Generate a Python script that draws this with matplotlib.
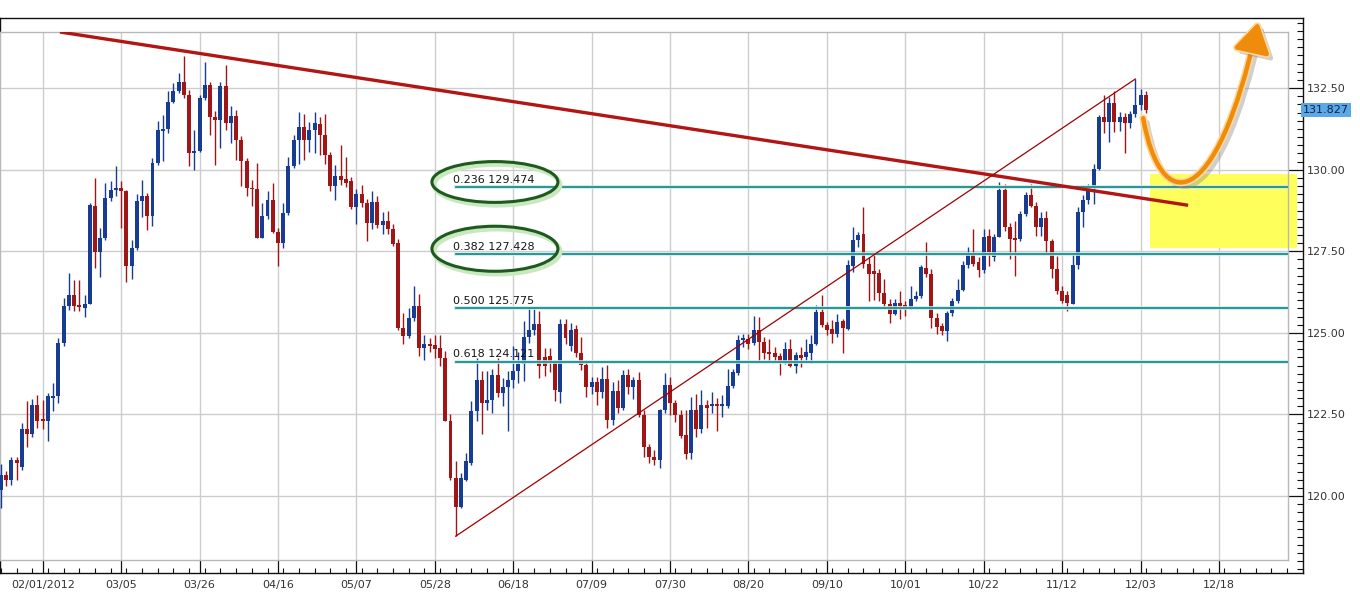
import matplotlib
matplotlib.use("Agg")
import matplotlib.pyplot as plt
import matplotlib.patheffects as pe
import matplotlib.transforms as mtransforms
from matplotlib.patches import Ellipse, Rectangle, FancyArrowPatch
from matplotlib.path import Path
from matplotlib.ticker import MultipleLocator, FixedLocator, FormatStrFormatter

# ── Data: daily candles, bar index 0..219 ──────────────────────────────────
OPEN = [120.2, 120.66, 120.5, 121.1, 120.9, 122.04, 121.9, 122.8, 122.35, 122.3,
        123.0, 123.07, 124.7, 125.82, 126.17, 125.85, 125.75, 125.9, 128.9, 127.47,
        127.9, 129.13, 129.39, 129.44, 129.34, 127.06, 127.6, 129.05, 129.18, 128.57,
        130.2, 131.2, 131.25, 132.09, 132.4, 132.7, 132.3, 130.5, 130.58, 132.2,
        132.6, 131.63, 131.53, 132.55, 131.43, 131.65, 130.92, 130.26, 129.44, 129.4,
        127.9, 128.57, 129.08, 128.1, 127.75, 128.67, 130.1, 130.9, 131.31, 130.9,
        131.23, 131.4, 131.06, 130.44, 129.49, 129.8, 129.72, 129.64, 128.85, 129.26,
        128.97, 128.36, 129.0, 128.3, 128.44, 128.18, 127.74, 125.14, 124.9, 125.47,
        125.83, 124.54, 124.65, 124.62, 124.54, 124.24, 122.29, 120.55, 119.67, 120.5,
        121.0, 122.6, 123.57, 122.85, 122.95, 123.72, 123.16, 123.33, 123.57, 123.83,
        124.05, 124.87, 125.1, 125.26, 124.25, 124.3, 124.13, 123.2, 125.26, 124.6,
        125.13, 124.39, 124.01, 123.33, 123.5, 123.19, 123.6, 122.33, 123.22, 122.7,
        123.7, 123.33, 123.55, 122.48, 121.51, 121.2, 121.1, 122.63, 123.4, 122.84,
        122.48, 121.87, 121.33, 122.65, 122.04, 122.79, 122.76, 122.8, 122.76, 122.76,
        123.37, 123.78, 124.78, 124.8, 124.7, 125.08, 124.72, 124.42, 124.39, 124.29,
        124.11, 124.52, 123.98, 124.32, 124.27, 124.39, 124.65, 125.64, 125.23, 125.13,
        124.96, 125.37, 125.13, 127.04, 127.84, 128.03, 127.1, 126.9, 126.85, 126.23,
        125.9, 125.58, 125.92, 125.84, 125.75, 126.03, 126.13, 127.0, 126.8, 125.46,
        125.2, 125.07, 125.61, 125.99, 126.31, 127.08, 127.43, 127.16, 126.92, 127.98,
        127.34, 127.95, 129.39, 128.23, 127.92, 127.87, 128.64, 129.23, 128.9, 128.23,
        128.51, 127.82, 126.95, 126.28, 126.16, 125.9, 127.08, 128.7, 129.08, 129.45,
        130.03, 131.63, 131.47, 132.04, 131.47, 131.63, 131.42, 131.71, 131.99, 132.3]
HIGH = [120.97, 120.76, 121.2, 121.2, 122.24, 122.9, 122.96, 123.1, 122.95, 123.16,
        123.45, 124.85, 126.07, 126.84, 126.63, 126.63, 126.17, 128.98, 129.74, 128.2,
        129.6, 129.64, 130.1, 129.64, 129.39, 127.86, 129.26, 129.7, 129.28, 130.36,
        131.48, 131.68, 132.4, 132.65, 132.96, 133.47, 132.45, 131.22, 132.3, 133.3,
        132.7, 131.79, 132.68, 133.2, 131.94, 131.84, 131.02, 130.36, 129.7, 130.2,
        128.98, 129.34, 129.6, 128.2, 128.98, 130.4, 131.06, 131.77, 131.72, 131.47,
        131.77, 131.6, 131.72, 130.54, 130.13, 130.75, 130.4, 129.77, 129.41, 129.52,
        129.1, 129.36, 129.2, 128.7, 128.75, 128.34, 127.88, 125.62, 125.77, 126.44,
        126.18, 124.95, 124.85, 124.95, 124.95, 124.44, 122.5, 121.06, 120.7, 121.31,
        122.9, 124.24, 123.83, 123.83, 123.88, 124.24, 123.62, 123.83, 124.6, 124.4,
        125.36, 125.77, 125.72, 125.67, 124.54, 124.54, 124.18, 125.41, 125.41, 125.3,
        125.23, 124.88, 124.16, 123.65, 123.65, 123.96, 124.01, 123.5, 123.55, 123.86,
        123.9, 123.65, 123.8, 122.63, 121.6, 121.4, 122.68, 123.78, 123.65, 122.94,
        122.63, 122.63, 123.04, 123.14, 123.25, 122.94, 123.19, 122.99, 123.1, 123.9,
        123.9, 124.93, 124.98, 124.98, 125.51, 125.49, 124.88, 124.8, 124.57, 124.37,
        124.72, 124.8, 124.42, 124.57, 124.8, 124.95, 125.85, 126.15, 125.34, 125.39,
        125.59, 125.44, 127.22, 128.24, 128.09, 128.85, 127.31, 127.46, 126.95, 126.64,
        126.03, 126.03, 126.28, 125.97, 126.43, 126.28, 127.08, 127.77, 126.95, 125.62,
        125.3, 125.67, 126.07, 126.64, 127.21, 127.62, 128.18, 127.31, 128.18, 128.18,
        128.03, 129.62, 129.57, 128.36, 128.44, 128.75, 129.31, 129.57, 129.0, 128.7,
        128.75, 127.87, 127.36, 126.43, 126.28, 127.43, 128.85, 129.21, 129.57, 130.19,
        131.68, 132.29, 132.24, 132.4, 131.78, 131.73, 131.81, 132.78, 132.47, 132.4]
LOW = [119.64, 120.3, 120.35, 120.5, 120.8, 121.5, 121.8, 122.1, 122.05, 121.7,
       122.6, 122.86, 124.6, 125.71, 125.66, 125.66, 125.5, 125.87, 126.99, 126.7,
       127.86, 129.03, 129.18, 128.2, 126.55, 126.65, 127.55, 128.55, 128.16, 128.26,
       130.15, 130.26, 131.12, 132.04, 132.35, 132.19, 130.1, 130.0, 130.53, 132.14,
       131.07, 130.15, 130.66, 131.22, 130.82, 130.3, 129.5, 129.18, 128.9, 127.9,
       127.9, 128.5, 128.05, 127.04, 127.6, 128.6, 130.06, 130.18, 130.3, 130.54,
       130.5, 130.44, 130.18, 129.36, 129.06, 129.52, 129.47, 128.8, 128.34, 128.85,
       127.83, 128.18, 128.2, 128.03, 128.03, 127.67, 125.1, 124.65, 124.85, 125.36,
       124.29, 124.18, 124.4, 124.24, 124.0, 122.29, 120.49, 118.77, 119.62, 120.45,
       120.95, 122.29, 121.9, 122.65, 122.54, 123.05, 122.75, 121.98, 123.3, 123.47,
       123.52, 124.7, 124.95, 123.62, 123.67, 123.8, 122.9, 122.85, 124.65, 124.45,
       124.27, 123.86, 123.04, 123.14, 122.79, 122.99, 122.07, 122.17, 122.53, 122.63,
       123.14, 122.96, 122.43, 121.2, 121.0, 120.95, 120.85, 122.53, 122.48, 122.27,
       121.77, 121.15, 121.15, 121.82, 121.92, 122.07, 122.53, 121.98, 122.43, 122.7,
       123.3, 123.7, 124.57, 124.52, 124.62, 124.11, 124.21, 124.11, 124.11, 123.7,
       124.06, 123.96, 123.78, 123.96, 124.16, 124.08, 124.62, 125.18, 124.93, 124.68,
       124.88, 124.37, 125.08, 126.87, 127.63, 127.0, 125.97, 126.0, 125.97, 125.72,
       125.31, 125.56, 125.41, 125.51, 125.72, 125.97, 126.08, 126.71, 125.15, 124.97,
       124.95, 124.74, 125.51, 125.92, 126.28, 127.0, 127.05, 126.72, 126.84, 127.05,
       127.21, 127.93, 128.13, 127.26, 126.74, 127.82, 128.59, 128.85, 127.98, 127.98,
       127.41, 126.69, 126.18, 125.92, 125.67, 125.87, 126.95, 128.23, 128.95, 128.95,
       129.98, 131.11, 130.86, 131.16, 131.19, 130.5, 131.27, 131.63, 131.83, 131.73]
CLOSE = [120.66, 120.5, 121.1, 121.0, 122.04, 121.9, 122.8, 122.3, 122.3, 123.06,
         123.07, 124.7, 125.82, 126.17, 125.82, 125.8, 125.9, 128.93, 127.47, 127.9,
         129.13, 129.39, 129.44, 129.34, 127.06, 127.6, 129.05, 129.18, 128.57, 130.2,
         131.22, 131.25, 132.09, 132.4, 132.7, 132.3, 130.5, 130.58, 132.2, 132.6,
         131.63, 131.53, 132.55, 131.43, 131.65, 130.92, 130.26, 129.44, 129.4, 127.9,
         128.57, 129.08, 128.1, 127.75, 128.67, 130.1, 130.9, 131.31, 130.9, 131.23,
         131.44, 131.06, 130.44, 129.49, 129.8, 129.67, 129.6, 128.85, 129.26, 128.97,
         128.36, 129.0, 128.3, 128.44, 128.18, 127.72, 125.14, 124.9, 125.47, 125.83,
         124.54, 124.65, 124.6, 124.5, 124.24, 122.29, 120.55, 119.67, 120.55, 121.06,
         122.6, 123.57, 122.85, 122.95, 123.72, 123.16, 123.33, 123.57, 123.83, 124.05,
         124.87, 125.1, 125.26, 123.98, 123.98, 124.13, 123.26, 125.26, 124.85, 125.1,
         124.37, 124.01, 123.33, 123.5, 123.19, 123.6, 122.33, 123.22, 122.7, 123.7,
         123.33, 123.55, 122.48, 121.51, 121.2, 121.1, 122.63, 123.4, 122.84, 122.48,
         121.84, 121.3, 122.65, 122.04, 122.79, 122.7, 122.8, 122.76, 122.8, 123.37,
         123.8, 124.78, 124.8, 124.67, 125.08, 124.72, 124.37, 124.35, 124.27, 124.11,
         124.52, 123.98, 124.32, 124.24, 124.42, 124.65, 125.64, 125.23, 125.1, 124.96,
         125.34, 125.16, 127.07, 127.84, 127.99, 127.1, 126.8, 126.8, 126.23, 125.87,
         125.58, 125.92, 125.82, 125.75, 126.03, 126.13, 127.02, 126.8, 125.46, 125.17,
         125.07, 125.61, 125.99, 126.31, 127.08, 127.39, 127.12, 126.92, 127.95, 127.47,
         127.95, 129.39, 128.23, 127.87, 127.84, 128.64, 129.23, 128.9, 128.23, 128.51,
         127.82, 126.95, 126.28, 125.97, 125.92, 127.08, 128.7, 129.08, 129.45, 130.03,
         131.63, 131.47, 132.04, 131.47, 131.63, 131.42, 131.71, 131.99, 132.3, 131.827]

TICK_BARS = [8, 23, 38, 53, 68, 83, 98, 113, 128, 143, 158, 173, 188, 203, 218, 233]
TICK_LABELS = ["02/01/2012", "03/05", "03/26", "04/16", "05/07", "05/28", "06/18",
               "07/09", "07/30", "08/20", "09/10", "10/01", "10/22", "11/12",
               "12/03", "12/18"]

FIB_RATIOS = [0.236, 0.382, 0.500, 0.618]
FIB_LEVELS = [129.474, 127.428, 125.775, 124.121]
SWING_LOW_BAR, SWING_HIGH_BAR = 87, 217

# ── Colours ────────────────────────────────────────────────────────────────
C_UP = "#173d92"
C_DOWN = "#a01616"
C_GRID = "#cdcdcd"
C_FIB = "#1f8c8c"
C_TREND = "#b31414"

# ── Layout (pixel based) ───────────────────────────────────────────────────
W, H = 1360, 598
PL, PR, PT, PB = 0, 1288, 32, 560      # plot area
FR, FT, FB = 1303, 18, 573             # outer frame with ticks
X0, X1 = -0.17, 246.2                  # bar range of plot area
Y0, Y1 = 118.04, 134.22                # price range of plot area

fig = plt.figure(figsize=(W / 100, H / 100), dpi=100)
fig.patch.set_facecolor("white")

dx = (X1 - X0) / (PR - PL)
dy = (Y1 - Y0) / (PB - PT)

# outer frame: carries the ticks and labels
ax2 = fig.add_axes([PL / W, (H - FB) / H, (FR - PL) / W, (FB - FT) / H])
ax2.set_zorder(0)
ax2.set_xlim(X0, X0 + (FR - PL) * dx)
ax2.set_ylim(Y0 - (FB - PB) * dy, Y1 + (PT - FT) * dy)
for s in ax2.spines.values():
    s.set_color("#111111")
    s.set_linewidth(1.0)
ax2.xaxis.set_major_locator(FixedLocator(TICK_BARS))
ax2.set_xticklabels(TICK_LABELS)
ax2.xaxis.set_minor_locator(MultipleLocator(3))
ax2.tick_params(axis="x", which="major", direction="in", length=9.5, width=0.9,
                pad=5, labelsize=8, labelcolor="#333333", colors="#111111")
ax2.tick_params(axis="x", which="minor", direction="in", length=3.5, width=0.8,
                colors="#111111")
ax2.yaxis.tick_right()
ax2.yaxis.set_major_locator(MultipleLocator(2.5))
ax2.yaxis.set_minor_locator(MultipleLocator(0.25))
ax2.yaxis.set_major_formatter(FormatStrFormatter("%.2f"))
ax2.tick_params(axis="y", which="major", direction="in", length=10.8, width=0.9,
                pad=3, labelsize=8, labelcolor="#333333", colors="#111111")
ax2.tick_params(axis="y", which="minor", direction="in", length=4.3, width=0.8,
                colors="#111111")
ax2.tick_params(axis="y", which="both", left=False, labelleft=False)

# plot area
ax = fig.add_axes([PL / W, (H - PB) / H, (PR - PL) / W, (PB - PT) / H])
ax.set_zorder(1)
ax.set_xlim(X0, X1)
ax.set_ylim(Y0, Y1)
ax.set_xticks(TICK_BARS)
ax.yaxis.set_major_locator(MultipleLocator(2.5))
ax.tick_params(which="both", length=0, labelbottom=False, labelleft=False)
ax.set_axisbelow(True)
ax.grid(True, color=C_GRID, linewidth=1.0)
for s in ax.spines.values():
    s.set_color("#b8b8b8")
    s.set_linewidth(1.0)

# ── Yellow target zone ─────────────────────────────────────────────────────
ax.add_patch(Rectangle((219.8, 127.59), 28.2, 2.27, facecolor="#ffff5c",
                       edgecolor="none", zorder=1, clip_on=False))

# ── Candles ────────────────────────────────────────────────────────────────
bars = range(len(CLOSE))
colors = [C_UP if c >= o else C_DOWN for o, c in zip(OPEN, CLOSE)]
ax.vlines(bars, LOW, HIGH, colors=colors, linewidth=1.0, zorder=3)
bottoms = [min(o, c) for o, c in zip(OPEN, CLOSE)]
heights = [max(abs(c - o), 0.05) for o, c in zip(OPEN, CLOSE)]
ax.bar(bars, heights, bottom=bottoms, width=0.76, color=colors, linewidth=0, zorder=3)

# ── Fibonacci retracement ──────────────────────────────────────────────────
for r, lvl in zip(FIB_RATIOS, FIB_LEVELS):
    ax.plot([SWING_LOW_BAR, X1], [lvl, lvl], color=C_FIB, lw=1.3, zorder=4,
            path_effects=[pe.Stroke(linewidth=2.6, foreground="#c8ecee"), pe.Normal()])
    ax.annotate(f"{r:.3f} {lvl:.3f}", xy=(SWING_LOW_BAR - 0.5, lvl), xytext=(0, 1.5),
                textcoords="offset points", ha="left", va="bottom", fontsize=8,
                color="#151515", zorder=5)

for lvl, h in zip(FIB_LEVELS[:2], [1.25, 1.38]):
    ax.add_patch(Ellipse((94.5, lvl + 0.15), 24.1, h, fill=False, edgecolor="#1d5a1d",
                         linewidth=2.2, zorder=6,
                         path_effects=[pe.Stroke(linewidth=3.5, foreground="#c9e8bf",
                                                 offset=(1.5, -2)), pe.Normal()]))

# ── Trend lines ────────────────────────────────────────────────────────────
ax.plot([11.3, 227.1], [134.22, 128.91], color=C_TREND, lw=2.4, zorder=5,
        solid_capstyle="butt")
ax.plot([SWING_LOW_BAR, SWING_HIGH_BAR], [LOW[SWING_LOW_BAR], HIGH[SWING_HIGH_BAR]],
        color="#a00000", lw=0.9, zorder=5)

# ── Projection arrow ───────────────────────────────────────────────────────
arrow_path = Path([(218.5, 131.58), (221.8, 128.6), (232.3, 128.6), (240.5, 134.52)],
                  [Path.MOVETO, Path.CURVE4, Path.CURVE4, Path.CURVE4])
arrow = FancyArrowPatch(path=arrow_path, arrowstyle="-|>,head_length=0.9,head_width=0.55",
                        mutation_scale=20, color="#ef8c0c", lw=3.2, zorder=7,
                        clip_on=False)
arrow.set_path_effects([pe.SimpleLineShadow(offset=(3, -3), shadow_color="#888888",
                                            alpha=0.4),
                        pe.Stroke(linewidth=5.5, foreground="#ffd89a"), pe.Normal()])
ax.add_patch(arrow)

# ── Last price tag ─────────────────────────────────────────────────────────
trans = mtransforms.blended_transform_factory(ax2.transAxes, ax2.transData)
ax2.text(1.0, CLOSE[-1], f"{CLOSE[-1]:.3f}", transform=trans, ha="left", va="center",
         fontsize=8, color="#10204a",
         bbox=dict(boxstyle="square,pad=0.2", facecolor="#5aa8e6", edgecolor="none"))

fig.savefig("out.png", dpi=100)
